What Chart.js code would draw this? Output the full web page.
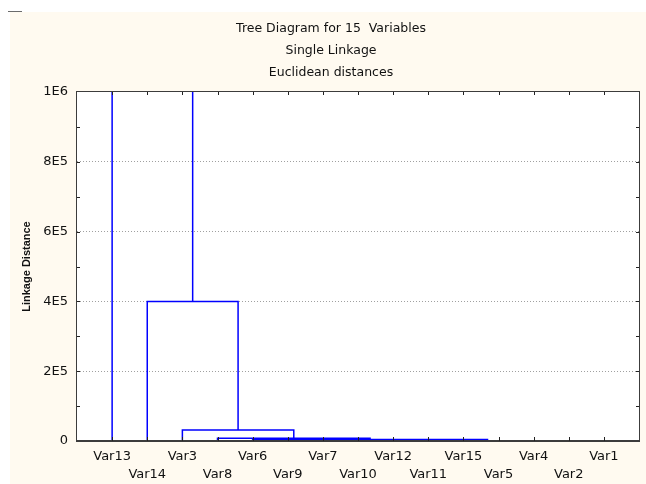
<!DOCTYPE html>
<html lang="en">
<head>
<meta charset="UTF-8">
<title>Tree Diagram for 15 Variables</title>
<script src="https://cdn.jsdelivr.net/npm/chart.js"></script>
<style>
  html, body { margin: 0; padding: 0; background: #fff; }
  .wrap { position: relative; width: 646px; height: 484px; overflow: hidden; }
  .paper { position: absolute; left: 10px; top: 12px; right: 0; bottom: 0; background: #fffaf0; }
  .mark { position: absolute; left: 8px; top: 11px; width: 14px; height: 1px; background: #6b6b6b; }
  canvas { position: absolute; left: 0; top: 0; }
</style>
</head>
<body>
<div class="wrap">
  <div class="paper"></div>
  <div class="mark"></div>
  <canvas id="grafico" width="646" height="484"></canvas>
</div>
<script>
// leaf order along the x axis
const variables = ['Var13', 'Var14', 'Var3', 'Var8', 'Var6', 'Var9', 'Var7', 'Var10',
                   'Var12', 'Var11', 'Var15', 'Var5', 'Var4', 'Var2', 'Var1'];

// joins: nodes 0-14 are the leaves, node 15+k is the cluster made by join k
const mergeLeft  = [11, 13, 15, 5, 7, 18, 20, 21, 22, 4, 3, 2, 1, 0];
const mergeRight = [12, 14, 16, 6, 8, 19, 9, 10, 17, 23, 24, 25, 26, 27];
const mergeDist  = [100, 150, 200, 250, 300, 350, 400, 450, 500, 4500, 8000, 31500, 400000, 1500000];

const yTickValues = [0, 200000, 400000, 600000, 800000, 1000000];
const yTickLabels = ['0', '2E5', '4E5', '6E5', '8E5', '1E6'];

const titleLines = ['Tree Diagram for 15  Variables', 'Single Linkage', 'Euclidean distances'];

// build one polyline per join (left leg, bar, right leg)
const nodeX = variables.map((v, i) => i + 1);
const nodeH = variables.map(() => 0);
const datasets = mergeDist.map((d, k) => {
  const a = mergeLeft[k], b = mergeRight[k];
  nodeX.push((nodeX[a] + nodeX[b]) / 2);
  nodeH.push(d);
  return {
    data: [
      { x: nodeX[a], y: nodeH[a] },
      { x: nodeX[a], y: d },
      { x: nodeX[b], y: d },
      { x: nodeX[b], y: nodeH[b] }
    ],
    showLine: true,
    borderColor: '#0000ff',
    borderWidth: 1.5,
    pointRadius: 0,
    tension: 0,
    fill: false
  };
});

// white plot area, frame and inward tick marks
const frame = {
  id: 'frame',
  beforeDraw(chart) {
    const { ctx, chartArea: a } = chart;
    ctx.save();
    ctx.fillStyle = '#ffffff';
    ctx.fillRect(a.left, a.top, a.right - a.left, a.bottom - a.top);
    ctx.restore();
  },
  afterDatasetsDraw(chart) {
    const { ctx, chartArea: a, scales } = chart;
    ctx.save();
    ctx.strokeStyle = '#3c3c3c';
    ctx.lineWidth = 1;
    ctx.strokeRect(a.left - 0.5, a.top - 0.5, a.right - a.left + 1, a.bottom - a.top + 1);
    ctx.lineWidth = 2;
    ctx.beginPath();
    ctx.moveTo(a.left - 1, a.bottom);
    ctx.lineTo(a.right + 1, a.bottom);
    ctx.stroke();

    ctx.lineWidth = 1;
    ctx.strokeStyle = '#222';
    ctx.beginPath();
    variables.forEach((v, i) => {
      const px = Math.round(scales.x.getPixelForValue(i + 1)) + 0.5;
      ctx.moveTo(px, a.bottom); ctx.lineTo(px, a.bottom - 4);
      ctx.moveTo(px, a.top); ctx.lineTo(px, a.top + 3);
    });
    scales.y.ticks.forEach(t => {
      if (t.value <= 0 || t.value >= 1000000) return;
      const py = Math.round(scales.y.getPixelForValue(t.value)) + 0.5;
      ctx.moveTo(a.left, py); ctx.lineTo(a.left + 3, py);
      ctx.moveTo(a.right, py); ctx.lineTo(a.right - 3, py);
    });
    ctx.stroke();
    ctx.restore();
  }
};

Chart.defaults.font.family = "'DejaVu Sans', sans-serif";

new Chart(document.getElementById('grafico'), {
  type: 'scatter',
  data: { datasets: datasets },
  plugins: [frame],
  options: {
    responsive: false,
    animation: false,
    layout: { padding: { left: 20, right: 4, top: 0, bottom: 0 } },
    plugins: {
      legend: { display: false },
      tooltip: { enabled: false },
      title: {
        display: true,
        text: titleLines,
        color: '#111',
        font: { size: 12.5, weight: 'normal', lineHeight: 1.76 },
        padding: { top: 18, bottom: 8 }
      }
    },
    scales: {
      x: {
        type: 'linear',
        min: 0,
        max: 16,
        afterFit: s => { s.height = 43; },
        grid: { display: false, drawTicks: false },
        border: { display: false },
        ticks: {
          stepSize: 1,
          autoSkip: false,
          maxRotation: 0,
          minRotation: 0,
          padding: 7,
          color: '#111',
          font: { size: 13, lineHeight: 18 / 13 },
          callback: v => {
            const i = Math.round(v) - 1;
            if (i < 0 || i >= variables.length) return '';
            return i % 2 === 0 ? variables[i] : ['', variables[i]];
          }
        }
      },
      y: {
        min: 0,
        max: 1000000,
        afterFit: s => { s.width = 57; },
        grid: {
          drawTicks: false,
          color: c => {
            const v = c.tick ? Math.round(c.tick.value) : 0;
            return (v > 0 && v < 1000000 && v % 200000 === 0) ? '#a0a0a0' : 'rgba(0,0,0,0)';
          }
        },
        border: { display: false, dash: [1, 2] },
        ticks: {
          stepSize: 100000,
          autoSkip: false,
          padding: 9,
          color: '#111',
          font: { size: 13 },
          callback: v => {
            const i = yTickValues.indexOf(Math.round(v));
            return i >= 0 ? yTickLabels[i] : '';
          }
        },
        title: {
          display: true,
          text: 'Linkage Distance',
          color: '#111',
          font: { family: "'Liberation Sans', sans-serif", size: 11, weight: 'bold' },
          padding: 0
        }
      }
    }
  }
});
</script>
</body>
</html>
